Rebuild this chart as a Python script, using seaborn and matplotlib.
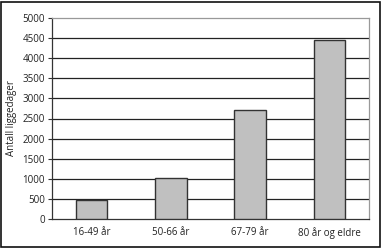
import matplotlib
matplotlib.use("Agg")
import matplotlib.pyplot as plt
import seaborn as sns
import pandas as pd
from matplotlib.patches import Rectangle

categories = ["16-49 år", "50-66 år", "67-79 år", "80 år og eldre"]
values = [470, 1020, 2715, 4460]
yticks = [0, 500, 1000, 1500, 2000, 2500, 3000, 3500, 4000, 4500, 5000]

sns.set_theme(style="white")
plt.rcParams['font.family'] = ['Open Sans', 'DejaVu Sans']

df = pd.DataFrame({"cat": categories, "val": values})
fig = plt.figure(figsize=(3.82, 2.48), dpi=100)
ax = fig.add_axes([52/382, (248-219)/248, (369-52)/382, (219-18)/248])
sns.barplot(data=df, x="cat", y="val", color="#c0c0c0", edgecolor="#333333",
            linewidth=1.0, width=0.4, saturation=1, ax=ax, zorder=3)
ax.set_ylim(0, 5000)
ax.set_xlim(-0.5, 3.5)
ax.set_yticks(yticks)
ax.set_yticklabels([str(t) for t in yticks], fontsize=7, color="#222222")
ax.set_xticks([0, 1, 2, 3])
ax.set_xticklabels(categories, fontsize=7, color="#222222")
ax.set_xticks([-0.5, 0.5, 1.5, 2.5, 3.5], minor=True)
ax.tick_params(axis='x', which='major', length=0, pad=6)
ax.tick_params(axis='x', which='minor', length=3, color="#333333", width=0.8, direction='out')
ax.tick_params(axis='y', length=3, color="#333333", width=0.8, direction='out', pad=2, left=True)
for t in yticks[1:-1]:
    ax.axhline(t, color="#222222", linewidth=0.9, zorder=1)
ax.set_xlabel("")
ax.set_ylabel("Antall liggedager", fontsize=7, color="#222222", labelpad=4)
for s in ["top", "right"]:
    ax.spines[s].set_color("#999999")
    ax.spines[s].set_linewidth(0.9)
for s in ["left", "bottom"]:
    ax.spines[s].set_color("#333333")
    ax.spines[s].set_linewidth(0.9)
fig.patches.append(Rectangle((1/382, 1/248), 379/382, 245/248, transform=fig.transFigure,
                             fill=False, edgecolor="#111111", linewidth=1.2))
fig.savefig("out.png", dpi=100)
